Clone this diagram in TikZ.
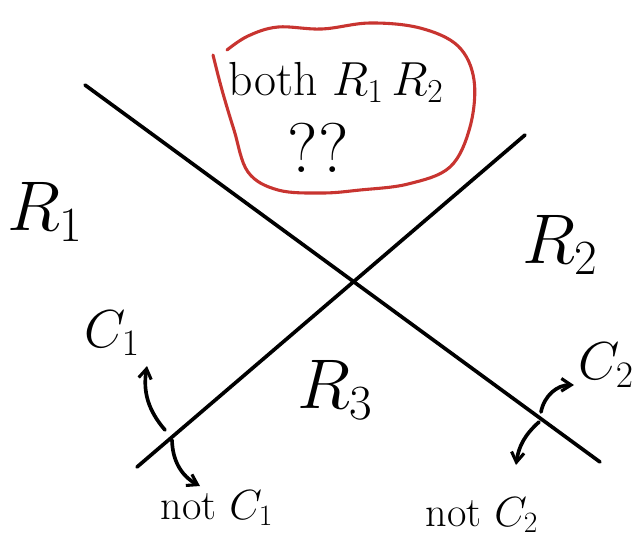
\RequirePackage{fix-cm}
\documentclass[tikz,border=0pt]{standalone}
\usepackage{tikz}
\usetikzlibrary{arrows.meta,calc,positioning}
\definecolor{penred}{RGB}{200,52,48}

\begin{document}
\begin{tikzpicture}[x=0.025cm, y=-0.025cm,
  ink/.style={line width=2.6pt, line cap=round, line join=round},
  hook/.style={ink, -{Straight Barb[length=7pt,width=9pt,line width=2.2pt]}},
  big/.style={font=\fontsize{50}{54}\selectfont, inner sep=0pt},
  mid/.style={font=\fontsize{34}{38}\selectfont, inner sep=0pt},
  small/.style={font=\fontsize{30}{34}\selectfont, inner sep=0pt}]

\useasboundingbox (0,0) rectangle (642,548);

% the two lines
\coordinate (aN) at (85,85);
\coordinate (aS) at (600,462);
\coordinate (bS) at (137,467);
\coordinate (bN) at (525,135);
\draw[ink] (aN) -- (aS);
\draw[ink] (bS) -- (bN);

% regions
\node[big] (r1) at (45,212) {$R_1$};
\node[big] (r2) at (560,245) {$R_2$};
\node[big] (r3) at (335,390) {$R_3$};

% both regions, circled
\node[mid] (both) at (336,82) {both $R_1\,R_2$};
\node[big] (qq) at (318,148) {??};
\draw[penred, line width=2.2pt, line cap=round]
  plot[smooth, tension=0.6] coordinates {(227,50) (248,36) (278,27) (322,29) (370,23)
  (420,28) (458,46) (474,80) (470,127) (450,167) (408,184) (360,190) (322,193)
  (278,190) (248,172) (234,130) (222,90) (213,55)};

% side of line 2
\node[small, font=\fontsize{38}{40}\selectfont] (c1) at (112,333) {$C_1$};
\node[small] (nc1) at (217,508) {not $C_1$};
\coordinate (p1) at (165,430);
\coordinate (q1) at (172,440);
\draw[hook] (p1) to[bend left=25] (147,366);
\draw[hook] (q1) to[bend right=30] (200,486);

% side of line 1
\node[small, font=\fontsize{38}{40}\selectfont] (c2) at (606,365) {$C_2$};
\node[small] (nc2) at (482,515) {not $C_2$};
\coordinate (p2) at (541,412);
\coordinate (q2) at (539,422);
\draw[hook] (p2) to[bend left=40] (574,385);
\draw[hook] (q2) to[bend right=20] (516,465);

\end{tikzpicture}
\end{document}
